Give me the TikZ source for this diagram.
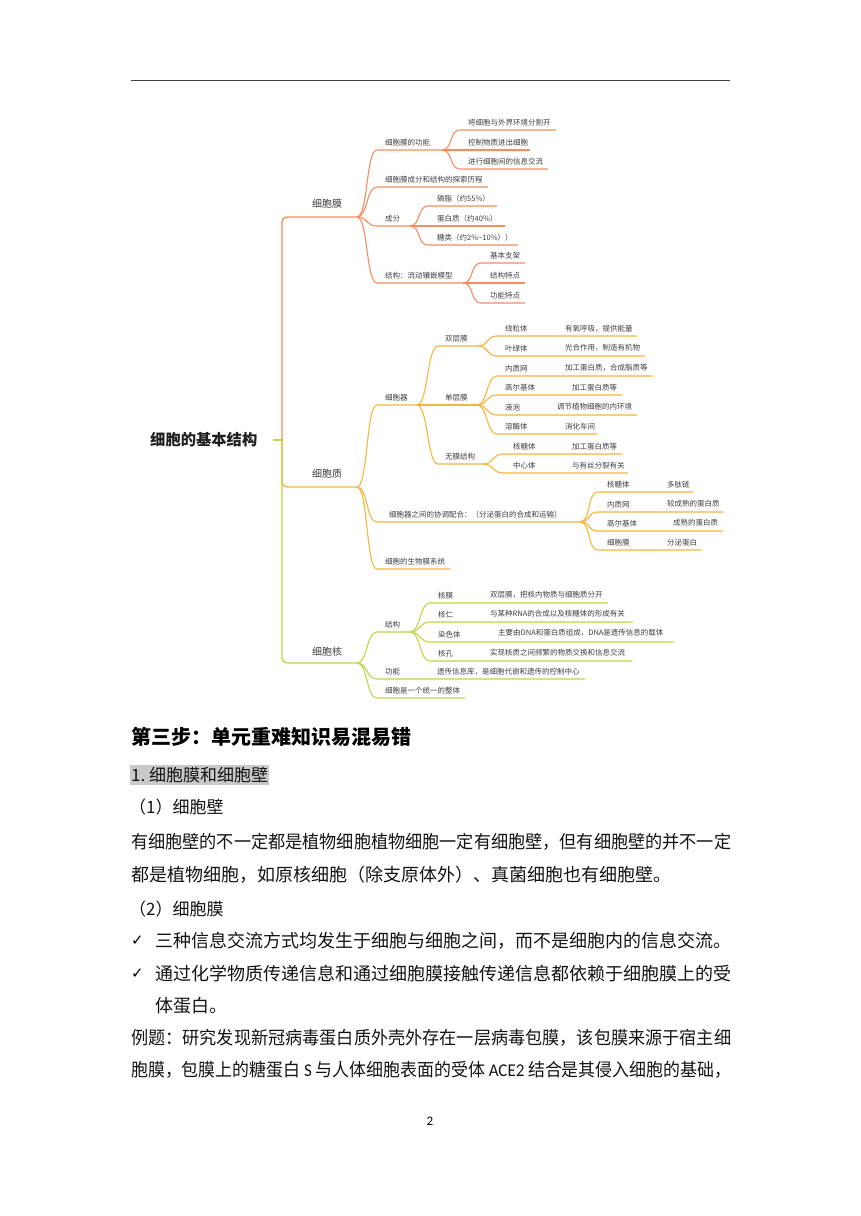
\documentclass[tikz,border=0pt]{standalone}
\usepackage{graphicx}
\usepackage{fontspec}
\setmainfont{Noto Sans CJK SC}
\newfontfamily\symf{DejaVu Sans}
\newfontfamily\latf{Carlito}
\definecolor{cmem}{HTML}{F58D5E}
\definecolor{ccyt}{HTML}{F6B53E}
\definecolor{cnuc}{HTML}{BFD545}
\definecolor{mmtxt}{HTML}{404040}
\definecolor{hlgray}{HTML}{C9C9C9}
\tikzset{
  mm/.style={anchor=west, inner sep=0pt, text=mmtxt, font=\fontsize{7.5}{9}\selectfont},
  lone/.style={anchor=west, inner sep=0pt, text=mmtxt, font=\fontsize{10}{12}\selectfont},
  bm/.style={draw=cmem, line width=1.1pt},
  bc/.style={draw=ccyt, line width=1.1pt},
  bn/.style={draw=cnuc, line width=1.1pt},
  bd/.style={anchor=west, inner sep=0pt, text=black!92, font=\fontsize{18}{21}\selectfont},
  sub/.style={anchor=west, inner sep=0pt, text=black!92, font=\fontsize{17}{20}\selectfont},
  ckm/.style={anchor=west, inner sep=0pt, text=black, font=\symf\bfseries\fontsize{15}{17}\selectfont},
}
\newcommand\mmb[8]{%
  \coordinate (#3s) at (#4,#5);
  \coordinate (#3) at (#6,#5);
  \draw[#1] (#2) .. controls +(11,0) and +(-11,0) .. (#3s) -- (#3);
  \node[mm] (#3t) at ({#7},{#5-7}) {#8};
}
\newcommand\fl[1]{\resizebox{600pt}{\height}{#1}}
\begin{document}
\begin{tikzpicture}[x=1pt,y=-1pt]
\useasboundingbox (0,0) rectangle (860,1216);
\fill[white] (0,0) rectangle (860,1216);
% header rule
\coordinate (hl) at (131,80);
\coordinate (hr) at (730,80);
\draw[line width=1pt, black!75] (hl) -- (hr);

% ---------- root ----------
\node[anchor=west, inner sep=0pt, font=\fontsize{15.3}{18}\selectfont\bfseries, text=black!88] (rootT) at (150,440) {细胞的基本结构};
\coordinate (rootL) at (273,440);
\coordinate (root) at (282,440);

% ---------- cytoplasm ----------
\coordinate (cytE) at (357,487);
\draw[bc, line width=1.4pt, rounded corners=5pt] (root) |- (cytE);
\node[lone] (cytT) at (312,474) {细胞质};
\mmb{bc}{cytE}{c1}{377}{405}{417}{385}{细胞器}
\mmb{bc}{c1}{c11}{438}{346}{478}{445}{双层膜}
\mmb{bc}{c11}{c111}{497}{336}{637}{505}{线粒体}
\node[mm] at (565,329) {有氧呼吸，提供能量};
\mmb{bc}{c11}{c112}{497}{356}{645}{505}{叶绿体}
\node[mm] at (565,348) {光合作用，制造有机物};
\mmb{bc}{c1}{c12}{438}{405}{477}{445}{单层膜}
\mmb{bc}{c12}{c121}{497}{376}{653}{505}{内质网}
\node[mm] at (565,368) {加工蛋白质，合成脂质等};
\mmb{bc}{c12}{c122}{497}{395}{622}{505}{高尔基体}
\node[mm] at (572,388) {加工蛋白质等};
\mmb{bc}{c12}{c123}{497}{415}{637}{505}{液泡}
\node[mm] at (557,407) {调节植物细胞的内环境};
\mmb{bc}{c12}{c124}{497}{434}{597}{505}{溶酶体}
\node[mm] at (565,427) {消化车间};
\mmb{bc}{c1}{c13}{438}{464}{483}{445}{无膜结构}
\mmb{bc}{c13}{c131}{503}{454}{622}{513}{核糖体}
\node[mm] at (572,447) {加工蛋白质等};
\mmb{bc}{c13}{c132}{503}{473}{628}{513}{中心体}
\node[mm] at (572,466) {与有丝分裂有关};
\mmb{bc}{cytE}{c2}{377}{522}{580}{389}{细胞器之间的协调配合：（分泌蛋白的合成和运输）}
\mmb{bc}{c2}{c21}{598}{492}{693}{607}{核糖体}
\node[mm] at (667,485) {多肽链};
\mmb{bc}{c2}{c22}{598}{512}{723}{607}{内质网}
\node[mm] at (667,504) {较成熟的蛋白质};
\mmb{bc}{c2}{c23}{598}{531}{723}{607}{高尔基体}
\node[mm] at (673,523) {成熟的蛋白质};
\mmb{bc}{c2}{c24}{598}{550}{701}{607}{细胞膜}
\node[mm] at (667,543) {分泌蛋白};
\mmb{bc}{cytE}{c3}{377}{569}{450}{385}{细胞的生物膜系统}

% ---------- nucleus ----------
\coordinate (nucE) at (357,663);
\draw[bn, line width=1.4pt, rounded corners=5pt] (root) |- (nucE);
\draw[bn, line width=1.4pt] (rootL) -- (root);
\node[lone] (nucT) at (312,652) {细胞核};
\mmb{bn}{nucE}{n1}{377}{632}{410}{385}{结构}
\mmb{bn}{n1}{n11}{430}{603}{608}{438}{核膜}
\node[mm] at (490,595) {双层膜，把核内物质与细胞质分开};
\mmb{bn}{n1}{n12}{430}{622}{633}{438}{核仁}
\node[mm] at (490,614) {与某种RNA的合成以及核糖体的形成有关};
\mmb{bn}{n1}{n13}{430}{642}{674}{438}{染色体}
\node[mm] at (498,633) {主要由DNA和蛋白质组成，DNA是遗传信息的载体};
\mmb{bn}{n1}{n14}{430}{661}{632}{438}{核孔}
\node[mm] at (490,653) {实现核质之间频繁的物质交换和信息交流};
\mmb{bn}{nucE}{n2}{377}{679}{585}{385}{功能}
\node[mm] at (437,672) {遗传信息库，是细胞代谢和遗传的控制中心};
\mmb{bn}{nucE}{n3}{377}{698}{465}{385}{细胞是一个统一的整体}

% ---------- membrane ----------
\coordinate (memE) at (357,217);
\draw[bm, line width=1.4pt, rounded corners=5pt] (root) |- (memE);
\node[lone] (memT) at (312,204) {细胞膜};
\mmb{bm}{memE}{m1}{377}{150}{442}{385}{细胞膜的功能}
\mmb{bm}{m1}{m11}{460}{130}{556}{468}{将细胞与外界环境分割开}
\mmb{bm}{m1}{m12}{460}{150}{530}{468}{控制物质进出细胞}
\mmb{bm}{m1}{m13}{460}{169}{548}{468}{进行细胞间的信息交流}
\mmb{bm}{memE}{m2}{377}{187}{488}{385}{细胞膜成分和结构的探索历程}
\mmb{bm}{memE}{m3}{377}{226}{410}{385}{成分}
\mmb{bm}{m3}{m31}{428}{206}{497}{437}{磷脂（约55\%）}
\mmb{bm}{m3}{m32}{428}{226}{505}{437}{蛋白质（约40\%）}
\mmb{bm}{m3}{m33}{428}{245}{518}{437}{糖类（约2\%\textasciitilde10\%））}
\mmb{bm}{memE}{m4}{377}{283}{463}{385}{结构：流动镶嵌模型}
\mmb{bm}{m4}{m41}{481}{263}{525}{490}{基本支架}
\mmb{bm}{m4}{m42}{481}{283}{525}{490}{结构特点}
\mmb{bm}{m4}{m43}{481}{303}{525}{490}{功能特点}

% ---------- body text ----------
\node[anchor=west, inner sep=0pt, font=\fontsize{20}{24}\selectfont\bfseries, text=black] (h1) at (131,737) {第三步：单元重难知识易混易错};
\node[sub, fill=hlgray, inner ysep=2pt, inner xsep=1pt] (h2) at (130,775) {1.\ 细胞膜和细胞壁};
\node[sub] (p1) at (129,807) {（1）细胞壁};
\node[bd] (l1) at (131,842) {\fl{有细胞壁的不一定都是植物细胞植物细胞一定有细胞壁，但有细胞壁的并不一定}};
\node[bd] (l2) at (131,875) {都是植物细胞，如原核细胞（除支原体外）、真菌细胞也有细胞壁。};
\node[sub] (p2) at (129,909) {（2）细胞膜};
\node[ckm] (ck1) at (131,941) {✓};
\node[bd] (l3) at (155,941) {三种信息交流方式均发生于细胞与细胞之间，而不是细胞内的信息交流。};
\node[ckm] (ck2) at (131,974) {✓};
\node[bd] (l4) at (155,974) {\resizebox{576pt}{\height}{通过化学物质传递信息和通过细胞膜接触传递信息都依赖于细胞膜上的受}};
\node[bd] (l5) at (155,1006) {体蛋白。};
\node[bd] (l6) at (131,1038) {\fl{例题：研究发现新冠病毒蛋白质外壳外存在一层病毒包膜，该包膜来源于宿主细}};
\node[bd] (l7) at (131,1070) {\fl{胞膜，包膜上的糖蛋白 {\latf S} 与人体细胞表面的受体 {\latf ACE2} 结合是其侵入细胞的基础，}};
\node[anchor=center, inner sep=0pt, font=\latf\fontsize{13}{15}\selectfont] (pg) at (430,1121) {2};
\end{tikzpicture}
\end{document}
